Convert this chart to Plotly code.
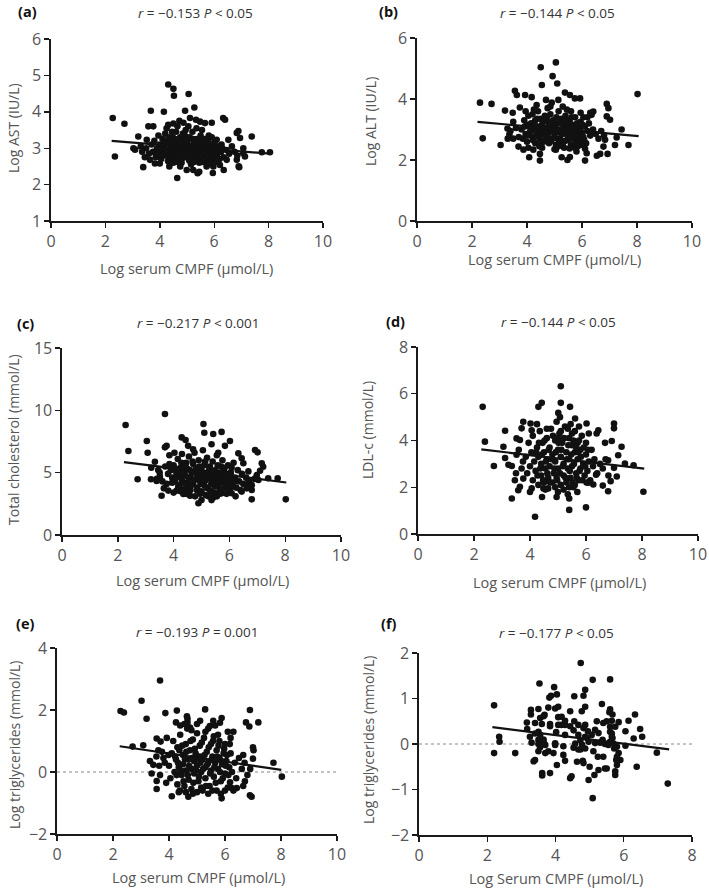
import plotly.graph_objects as go

# ---------------- data ----------------
a_pts = [(2.27,3.83),(2.35,2.77),(2.70,3.67),(3.03,3.0),(3.09,2.96),(3.21,3.32),(3.39,2.48),(3.52,3.23),(3.58,3.60),(3.76,3.60),
 (3.67,4.03),(4.15,4.0),(4.31,4.75),(4.50,4.63),(4.52,4.44),(5.06,4.49),(4.93,4.03),(5.27,4.12),(4.31,3.64),(4.5,3.68),
 (4.72,3.75),(4.87,3.70),(5.11,3.83),(5.33,3.78),(5.48,3.73),(5.66,3.69),(5.91,3.70),(6.33,3.83),(6.4,3.78),(7.38,3.32),
 (8.05,2.89),(7.75,2.89),(4.64,2.18),(6.92,2.48),(5.39,2.31),(6.83,3.42),(6.95,3.28),(6.89,3.47),(7.07,3.0),(7.07,2.86),
 (7.13,2.77),(6.83,2.68),(6.46,2.68),(6.21,2.54),(5.97,2.5),(5.72,2.5),(4.99,2.40),(5.23,2.40),(4.0,2.58),(3.82,2.58),
 (3.64,2.68),(6.52,3.23),(6.27,3.1),(6.09,3.23),(5.91,3.30),(5.45,2.35),(5.95,2.32),(6.35,2.4),(6.9,2.5),
 (3.7,3.1),(3.75,2.9),(3.8,3.2),(3.85,2.75),(3.9,3.0),(3.95,3.35),(4.0,2.85),(4.0,3.1),(4.05,2.7),(4.1,3.25),(4.1,2.95),
 (4.15,3.05),(4.2,2.8),(4.2,3.4),(4.25,3.15),(4.3,2.65),(4.3,2.95),(4.35,3.3),(4.4,3.05),(4.4,2.75),(4.45,2.9),(4.5,3.2),
 (4.5,2.6),(4.55,3.0),(4.6,3.45),(4.6,2.8),(4.65,3.1),(4.7,2.95),(4.7,2.7),(4.75,3.3),(4.8,3.05),(4.8,2.6),(4.85,2.85),
 (4.9,3.2),(4.9,2.95),(4.95,3.5),(5.0,2.75),(5.0,3.1),(5.05,2.9),(5.1,3.3),(5.1,2.65),(5.15,3.0),(5.2,2.85),(5.2,3.45),
 (5.25,3.15),(5.3,2.7),(5.3,2.95),(5.35,3.25),(5.4,2.85),(5.4,3.05),(5.45,2.6),(5.5,3.35),(5.5,2.9),(5.55,3.1),(5.6,2.75),
 (5.6,3.0),(5.65,3.25),(5.7,2.85),(5.7,2.6),(5.75,3.1),(5.8,2.95),(5.8,3.35),(5.85,2.7),(5.9,3.05),(5.95,2.85),(6.0,3.15),
 (6.0,2.65),(6.05,2.95),(6.1,2.8),(6.15,3.05),(6.2,2.7),(6.25,2.9),(6.3,3.0),(6.35,2.75),(6.45,2.95),(6.55,2.85),(6.65,3.05),
 (6.75,2.9),(6.85,2.8),(3.6,2.85),(3.5,3.0),(3.45,2.75),(3.3,3.05),(3.35,2.9),(4.25,3.55),(4.45,3.45),(4.85,3.4),(5.35,3.55),
 (5.55,3.5),(5.15,2.55),(4.75,2.5),(5.9,2.55),(4.35,2.5),(5.05,3.6),(4.65,3.6)]
a_core = [(4.22,2.92),(4.28,3.22),(4.33,2.78),(4.38,3.12),(4.42,2.88),(4.48,3.3),(4.52,2.72),(4.57,3.08),(4.62,2.92),(4.67,3.25),
 (4.72,2.83),(4.77,3.15),(4.82,2.72),(4.87,3.0),(4.92,3.35),(4.97,2.85),(5.02,3.2),(5.07,2.68),(5.12,3.05),(5.17,2.78),
 (5.22,3.25),(5.27,2.9),(5.32,3.1),(5.37,2.75),(5.42,3.2),(5.47,2.95),(5.52,2.7),(5.57,3.22),(5.62,2.88),(5.67,3.05),
 (5.72,2.75),(5.77,3.2),(5.82,2.8),(5.87,3.0),(5.92,2.72),(5.97,3.1),(6.02,2.85),(6.08,3.0),(4.18,3.12),(4.08,2.8),
 (3.98,3.0),(3.88,2.88),(4.45,3.02),(4.95,3.02),(5.45,3.02),(5.25,2.62),(4.65,2.62),(5.85,2.62),(5.55,2.62),(6.12,2.62)]

b_pts = [(5.05,5.20),(4.50,5.04),(4.93,4.75),(5.10,4.51),(4.54,4.46),(8.02,4.16),(2.29,3.88),(2.71,3.84),(2.39,2.71),(3.04,2.49),
 (3.56,4.27),(3.63,4.13),(3.93,4.13),(4.17,4.06),(3.2,3.62),(3.48,3.55),(3.74,3.72),(4.69,3.97),(4.9,3.88),(5.14,3.97),
 (5.38,4.21),(5.56,4.13),(5.74,4.02),(5.93,4.02),(6.9,3.84),(6.96,3.70),(6.9,3.43),(7.02,3.32),(6.41,3.59),(6.35,3.48),
 (7.44,3.0),(7.26,2.74),(7.69,2.49),(7.2,2.49),(6.84,2.66),(6.78,2.44),(6.54,2.14),(6.93,2.2),(6.66,2.2),(4.08,2.09),
 (4.47,1.98),(5.26,2.09),(5.47,2.0),(5.56,2.1),(6.11,1.98),(6.17,2.22),(4.47,2.2),(4.23,2.34),(3.50,2.7),(3.36,2.84),
 (3.29,3.03),(3.69,2.44),(3.87,2.34),(5.05,2.34),(5.68,2.45),(5.8,2.28),(6.11,2.37),
 (3.8,3.0),(3.85,2.7),(3.9,3.3),(3.95,2.85),(4.0,3.15),(4.0,2.6),(4.05,3.45),(4.1,2.9),(4.15,3.2),(4.2,2.75),(4.2,3.5),
 (4.25,3.05),(4.3,2.55),(4.3,3.3),(4.35,2.85),(4.4,3.1),(4.4,3.6),(4.45,2.7),(4.5,2.95),(4.5,3.35),(4.55,3.15),(4.6,2.6),
 (4.6,2.85),(4.65,3.45),(4.7,3.05),(4.7,2.75),(4.75,3.25),(4.8,2.55),(4.8,2.95),(4.85,3.5),(4.9,3.1),(4.9,2.7),(4.95,3.3),
 (5.0,2.85),(5.0,3.05),(5.05,2.5),(5.1,3.2),(5.1,2.9),(5.15,3.6),(5.2,2.7),(5.2,3.0),(5.25,3.35),(5.3,2.55),(5.3,2.85),
 (5.35,3.15),(5.4,2.95),(5.4,3.45),(5.45,2.65),(5.5,3.1),(5.5,2.8),(5.55,3.3),(5.6,2.5),(5.6,2.95),(5.65,3.15),(5.7,2.7),
 (5.75,3.4),(5.8,2.85),(5.85,3.05),(5.9,2.6),(5.95,3.25),(6.0,2.9),(6.05,2.75),(6.1,3.1),(6.15,2.55),(6.2,2.95),(6.3,2.8),
 (6.4,3.0),(6.5,2.85),(6.6,2.7),(6.7,2.95),(6.8,2.8),(3.7,2.75),(3.6,3.05),(3.5,3.25),(3.4,2.95),(3.3,2.7),(4.35,3.8),
 (4.75,3.7),(5.3,3.75),(5.6,3.6),(5.95,3.55),(6.2,3.4),(6.3,3.55),(4.55,2.4),(5.0,2.35),(5.35,2.4),(5.75,2.4),(4.05,2.4),
 (3.95,3.6)]
b_core = [(4.22,2.65),(4.27,3.18),(4.32,2.95),(4.37,3.35),(4.42,2.78),(4.47,3.05),(4.52,2.55),(4.57,3.25),(4.62,3.0),(4.67,2.7),
 (4.72,3.4),(4.77,2.88),(4.82,3.15),(4.87,2.62),(4.92,2.95),(4.97,3.2),(5.02,2.72),(5.07,3.4),(5.12,3.0),(5.17,2.6),
 (5.22,3.22),(5.27,2.85),(5.32,3.05),(5.37,2.62),(5.42,3.28),(5.47,2.9),(5.52,3.15),(5.57,2.7),(5.62,3.4),(5.67,2.88),
 (5.72,3.05),(5.77,2.55),(5.82,3.2),(5.87,2.75),(5.92,3.0),(5.97,2.5),(6.02,3.15),(6.08,2.65),(4.12,3.05),(4.02,2.8),
 (3.92,3.1),(4.45,2.45),(5.15,2.45),(5.55,2.38),(5.85,2.45),(4.25,3.65),(4.85,3.75),(5.45,3.65),(6.05,3.4),(6.25,3.2)]

c_pts = [(3.69,9.70),(2.28,8.82),(5.07,8.90),(5.1,8.2),(5.42,8.1),(5.72,8.27),(4.29,7.83),(4.43,7.62),(3.04,7.54),(6.02,7.54),
 (2.38,6.74),(3.07,6.6),(3.69,7.03),(3.75,7.15),(6.92,6.82),(7.01,6.63),(7.16,5.75),(7.21,5.48),(2.71,4.47),(3.19,4.47),
 (3.39,4.34),(3.65,3.74),(3.81,3.56),(3.57,3.15),(4.11,3.56),(4.35,3.29),(4.77,3.1),(5.0,2.8),(4.89,2.55),(5.36,2.8),
 (5.42,3.0),(5.72,3.35),(6.02,3.74),(6.44,3.48),(6.8,2.86),(6.8,3.61),(6.62,3.74),(6.68,4.0),(8.02,2.86),(7.39,4.55),
 (7.73,4.55),(7.04,4.41),(6.98,4.8),(7.1,5.15),(6.44,6.15),(6.32,6.55),(6.5,5.75),(6.68,5.1),(3.33,5.88),(3.45,5.21),
 (3.51,4.68),(4.41,3.43),(4.59,3.15),(6.08,3.35),(6.22,3.1),(4.17,3.82),(4.03,6.6),(4.52,7.15),(4.7,6.88),(5.36,7.28),
 (5.84,7.15),(5.6,6.6),
 (3.9,5.2),(3.95,4.6),(4.0,5.6),(4.05,4.3),(4.1,5.0),(4.15,6.1),(4.2,4.7),(4.2,3.9),(4.25,5.4),(4.3,4.4),(4.3,6.5),
 (4.35,5.1),(4.4,3.7),(4.4,4.8),(4.45,5.8),(4.5,4.2),(4.5,5.3),(4.55,6.3),(4.6,4.6),(4.6,3.6),(4.65,5.0),(4.7,5.7),
 (4.7,4.1),(4.75,6.6),(4.8,4.5),(4.8,5.4),(4.85,3.8),(4.9,4.9),(4.9,6.0),(4.95,4.3),(5.0,5.2),(5.0,3.5),(5.05,4.7),
 (5.05,6.8),(5.1,5.6),(5.1,4.0),(5.15,4.4),(5.2,5.0),(5.2,6.2),(5.25,3.7),(5.3,4.6),(5.3,5.5),(5.35,4.1),(5.4,5.9),
 (5.4,4.8),(5.45,3.4),(5.5,4.3),(5.5,5.2),(5.55,6.4),(5.6,4.0),(5.6,4.9),(5.65,3.6),(5.7,5.5),(5.7,4.5),(5.75,6.0),
 (5.8,4.2),(5.8,5.1),(5.85,3.8),(5.9,4.7),(5.95,5.6),(6.0,4.4),(6.0,3.5),(6.05,5.0),(6.1,4.1),(6.15,5.8),(6.2,4.6),
 (6.25,3.8),(6.3,5.2),(6.35,4.3),(6.45,4.9),(6.5,4.1),(6.6,4.6),(6.7,4.3),(6.8,4.0),(6.9,4.5),(3.8,4.9),(3.7,5.5),
 (3.6,4.3),(3.5,5.0),(3.4,4.5),(3.2,5.4),(3.85,6.4),(4.45,3.3),(5.15,3.2),(5.55,3.1),(5.9,3.3),(4.0,3.4),(3.75,4.1),
 (6.4,3.6)]
c_core = [(4.08,4.6),(4.13,5.3),(4.18,4.0),(4.23,5.0),(4.28,5.8),(4.33,4.2),(4.38,4.9),(4.43,5.5),(4.48,3.8),(4.53,4.6),
 (4.58,5.2),(4.63,4.0),(4.68,5.9),(4.73,4.4),(4.78,5.0),(4.83,3.6),(4.88,4.7),(4.93,5.5),(4.98,4.1),(5.03,5.0),
 (5.08,4.4),(5.13,5.9),(5.18,3.8),(5.23,4.8),(5.28,5.3),(5.33,3.5),(5.38,4.4),(5.43,5.1),(5.48,3.9),(5.53,4.7),
 (5.58,5.6),(5.63,4.2),(5.68,5.0),(5.73,3.7),(5.78,4.6),(5.83,5.4),(5.88,4.0),(5.93,4.9),(5.98,3.7),(6.03,4.7),
 (6.08,5.4),(6.13,3.9),(6.18,4.3),(4.95,3.3),(5.25,3.1),(5.65,3.3),(4.55,3.4),(4.25,3.5),(3.95,4.2),(3.85,5.7)]

d_pts = [(5.1,6.32),(2.31,5.44),(4.42,5.61),(4.3,5.44),(5.1,5.61),(5.43,5.44),(5.01,5.18),(5.07,5.0),(2.39,3.95),(3.05,3.73),
 (3.11,4.42),(2.71,2.91),(3.35,2.91),(3.35,1.52),(4.18,0.74),(5.4,1.03),(6.0,1.14),(5.4,1.52),(4.43,1.58),(3.64,2.02),
 (3.58,1.87),(4.06,1.95),(4.95,1.58),(4.65,1.95),(4.48,1.95),(5.69,1.8),(6.08,2.19),(6.26,2.12),(6.36,2.54),(6.6,2.07),
 (6.79,1.83),(6.88,2.26),(8.05,1.81),(7.0,4.73),(7.0,4.52),(6.68,3.9),(6.92,3.98),(7.27,3.73),(7.15,3.37),(6.79,3.15),
 (7.39,3.01),(7.7,2.94),(7.0,2.83),(7.1,2.46),(6.38,4.3),(6.44,4.44),(6.02,4.73),(5.61,4.94),(3.76,4.8),(4.02,4.73),
 (3.7,4.52),(4.06,4.44),(3.52,4.09),(3.64,4.02),(3.11,3.25),(3.23,2.96),(3.52,3.39),(3.46,2.3),(3.76,2.37),
 (3.85,3.3),(3.9,2.6),(3.95,3.9),(4.0,2.9),(4.05,3.5),(4.1,2.3),(4.1,4.2),(4.15,3.1),(4.2,2.7),(4.25,3.7),(4.3,2.1),
 (4.3,3.3),(4.35,4.4),(4.4,2.5),(4.4,3.0),(4.45,3.9),(4.5,2.2),(4.5,3.5),(4.55,2.8),(4.6,4.1),(4.6,3.2),(4.65,2.4),
 (4.7,3.7),(4.7,2.9),(4.75,4.5),(4.8,2.2),(4.8,3.4),(4.85,2.6),(4.9,4.0),(4.9,3.1),(4.95,2.4),(5.0,3.6),(5.0,2.8),
 (5.05,4.3),(5.1,2.1),(5.1,3.3),(5.15,3.9),(5.2,2.5),(5.2,3.0),(5.25,4.6),(5.3,2.2),(5.3,3.5),(5.35,2.8),(5.4,4.1),
 (5.4,3.2),(5.45,2.4),(5.5,3.8),(5.5,2.9),(5.55,2.0),(5.6,3.5),(5.6,4.4),(5.65,2.6),(5.7,3.2),(5.7,3.9),(5.75,2.3),
 (5.8,3.6),(5.8,2.8),(5.85,4.2),(5.9,3.0),(5.95,2.5),(6.0,3.4),(6.0,3.9),(6.05,2.7),(6.1,3.1),(6.15,2.3),(6.2,3.6),
 (6.25,2.9),(6.3,3.2),(6.4,2.6),(6.5,3.0),(6.6,2.8),(6.7,3.2),(6.8,2.5),(3.7,2.8),(3.6,3.6),(3.5,2.6),(3.75,3.1),
 (4.0,1.8),(4.55,1.9),(5.0,1.8),(5.35,1.7),(4.25,4.7),(4.95,4.8),(5.45,4.7),(5.75,4.6),(6.1,4.3)]
d_core = [(4.22,3.5),(4.27,2.5),(4.32,3.9),(4.37,2.8),(4.42,3.4),(4.47,2.3),(4.52,4.0),(4.57,3.1),(4.62,2.6),(4.67,3.6),
 (4.72,2.2),(4.77,3.2),(4.82,4.2),(4.87,2.8),(4.92,3.5),(4.97,2.3),(5.02,3.9),(5.07,2.6),(5.12,3.6),(5.17,2.9),
 (5.22,4.1),(5.27,2.4),(5.32,3.2),(5.37,3.8),(5.42,2.7),(5.47,3.4),(5.52,2.2),(5.57,3.0),(5.62,3.9),(5.67,2.4),
 (5.72,3.5),(5.77,2.7),(5.82,3.3),(5.87,2.3),(5.92,3.7),(5.97,2.9),(6.02,2.2),(6.07,3.6),(5.4,2.0),(5.2,1.9),
 (4.9,2.0),(5.6,2.1),(5.1,4.4),(4.6,4.5),(5.5,4.3),(5.35,4.5),(5.55,4.0),(5.65,3.7),(5.75,4.0),(5.0,4.1)]

e_pts = [(3.68,2.95),(3.02,2.3),(2.27,1.97),(2.39,1.92),(3.2,1.72),(3.87,1.9),(4.28,1.98),(5.29,2.02),(6.89,2.0),(7.19,1.6),
 (6.75,1.6),(6.87,1.47),(4.64,1.8),(4.66,1.72),(4.66,1.6),(4.75,1.43),(5.88,1.74),(5.82,1.59),(5.58,1.65),(5.11,1.65),
 (5.46,1.48),(7.73,0.3),(8.03,-0.15),(3.38,-0.05),(3.68,-0.1),(3.56,-0.29),(3.56,-0.55),(4.1,-0.78),(4.39,-0.6),(4.69,-0.8),
 (5.88,-0.85),(6.89,-0.75),(6.95,-0.8),(6.65,-0.45),(6.71,-0.3),(6.18,-0.33),(6.24,-0.52),(6.42,-0.52),(7.0,0.43),(7.0,0.8),
 (7.02,0.7),(6.65,0.55),(2.7,0.82),(3.08,0.86),(3.56,1.08),(3.7,0.98),(3.92,1.1),(3.32,0.35),(3.44,0.23),(3.8,0.45),
 (3.62,0.7),(3.98,0.55),
 (4.0,0.2),(4.05,-0.2),(4.1,0.6),(4.15,1.0),(4.2,0.0),(4.25,0.4),(4.3,-0.4),(4.3,0.8),(4.35,0.15),(4.4,1.2),(4.45,-0.1),
 (4.5,0.55),(4.5,0.25),(4.55,-0.45),(4.6,0.9),(4.6,0.05),(4.65,1.4),(4.7,0.4),(4.7,-0.25),(4.75,0.7),(4.8,0.1),(4.8,-0.55),
 (4.85,1.05),(4.9,0.35),(4.9,-0.05),(4.95,0.6),(5.0,0.2),(5.0,1.25),(5.05,-0.3),(5.1,0.5),(5.1,0.85),(5.15,0.0),(5.2,-0.6),
 (5.2,0.4),(5.25,1.1),(5.3,0.15),(5.3,-0.2),(5.35,0.65),(5.4,0.3),(5.4,1.4),(5.45,-0.45),(5.5,0.9),(5.5,0.05),(5.55,0.5),
 (5.6,-0.15),(5.6,1.15),(5.65,0.3),(5.7,0.7),(5.7,-0.6),(5.75,0.1),(5.8,0.45),(5.8,1.0),(5.85,-0.3),(5.9,0.25),(5.95,0.6),
 (6.0,-0.05),(6.0,0.9),(6.05,0.35),(6.1,-0.5),(6.15,0.15),(6.2,0.6),(6.25,0.0),(6.3,1.3),(6.35,0.3),(6.4,-0.2),(6.5,0.45),
 (6.6,0.1),(6.7,0.3),(6.8,-0.1),(6.9,0.1),(3.85,0.3),(3.9,-0.35),(3.75,0.65),(3.65,0.2),(3.55,0.5),(4.25,1.6),(4.55,1.55),
 (5.0,1.55),(5.65,1.5),(6.1,1.3),(4.35,-0.65),(5.0,-0.65),(5.4,-0.7),(5.85,-0.7),(6.3,-0.6)]
e_core = [(4.22,0.5),(4.27,-0.1),(4.32,0.3),(4.37,0.7),(4.42,0.05),(4.47,0.85),(4.52,-0.3),(4.57,0.4),(4.62,0.65),(4.67,-0.1),
 (4.72,0.2),(4.77,1.0),(4.82,0.45),(4.87,-0.35),(4.92,0.75),(4.97,0.05),(5.02,0.45),(5.07,-0.15),(5.12,0.3),(5.17,0.95),
 (5.22,0.1),(5.27,0.55),(5.32,-0.45),(5.37,0.25),(5.42,0.8),(5.47,-0.05),(5.52,0.4),(5.57,1.0),(5.62,0.15),(5.67,-0.35),
 (5.72,0.5),(5.77,0.85),(5.82,0.0),(5.87,0.35),(5.92,-0.2),(5.97,0.75),(6.02,0.2),(6.07,0.55),(6.12,-0.1),(6.17,0.9),
 (4.6,-0.65),(5.15,-0.5),(5.55,-0.6),(6.0,-0.6),(4.85,-0.7),(4.4,1.5),(4.8,1.35),(5.3,1.3),(5.75,1.2),(6.2,1.1)]

f_pts = [(4.74,1.78),(5.09,1.41),(5.6,1.42),(3.53,1.33),(3.96,1.25),(4.04,1.09),(3.87,1.06),(3.82,1.02),(4.87,1.19),(4.82,1.06),
 (4.55,1.05),(2.2,0.85),(3.28,0.75),(3.28,0.65),(3.5,0.77),(3.79,0.8),(3.99,0.78),(4.08,0.82),(3.68,0.64),(3.65,0.61),
 (4.18,0.6),(4.43,0.72),(4.77,0.72),(4.87,0.82),(5.36,0.88),(5.6,0.76),(5.58,0.7),(5.67,0.65),(6.33,0.65),(6.14,0.51),
 (3.16,0.47),(3.4,0.46),(3.6,0.44),(3.84,0.44),(4.08,0.42),(4.43,0.39),(4.67,0.42),(4.87,0.42),(5.21,0.5),(5.5,0.5),
 (5.65,0.51),(5.4,0.46),(2.35,0.16),(2.36,0.05),(2.2,-0.2),(2.82,-0.2),(3.17,0.33),(3.5,0.27),(3.55,0.2),(3.5,0.09),
 (3.65,0.04),(3.7,-0.02),(3.55,-0.07),(3.99,0.015),(4.17,0.42),(4.02,0.26),(4.28,0.2),(4.53,0.3),(4.58,0.01),(4.73,0.08),
 (4.78,-0.02),(4.87,0.16),(4.97,0.05),(5.06,0.2),(5.26,0.24),(5.38,0.09),(5.45,0.0),(5.65,0.16),(5.7,0.01),(5.8,-0.06),
 (6.05,-0.04),(6.29,0.12),(6.48,0.33),(6.54,0.16),(6.05,0.28),(6.97,-0.19),(7.29,-0.87),(5.09,-1.19),(4.97,-0.79),(5.14,-0.68),
 (4.43,-0.75),(4.47,-0.71),(3.61,-0.64),(3.61,-0.69),(3.84,-0.64),(3.36,-0.38),(3.4,-0.35),(4.04,-0.46),(4.28,-0.37),(3.94,-0.2),
 (4.23,-0.24),(4.63,-0.39),(4.8,-0.37),(4.82,-0.42),(5.0,-0.5),(5.26,-0.57),(5.45,-0.54),(5.5,-0.54),(5.4,-0.28),(5.24,-0.28),
 (5.75,-0.68),(5.75,-0.6),(5.8,-0.46),(5.8,-0.28),(5.85,-0.2),(5.9,-0.35),(6.38,-0.5),(5.11,-0.16),(4.67,-0.12),(4.53,-0.08),
 (3.7,-0.2),(3.5,-0.16),(3.25,0.16),(3.4,0.23),(3.3,0.03),(3.84,0.39),(4.23,-0.05),(4.28,0.42),(5.16,0.31),(5.6,0.38),
 (5.65,0.23),(5.75,0.38),(4.92,0.13),(5.16,0.02),(5.31,0.03),(5.55,-0.02),(5.67,0.13),(4.87,-0.1),(4.73,-0.12),(3.79,-0.16),
 (3.99,-0.02),(3.5,0.0),(3.65,0.1),(4.67,0.2),(4.82,0.35),(4.55,0.5),(4.28,0.51),(4.08,0.59),(3.55,0.57),(5.6,0.27),
 (5.85,0.48),(5.6,0.05),(5.72,-0.1),(5.78,-0.35),(4.95,0.28)]
f_core = []

# fitted regression lines (end points)
fit_x = {"a": [2.23, 8.05], "b": [2.2, 8.06], "c": [2.22, 8.04], "d": [2.26, 8.08], "e": [2.24, 8.01], "f": [2.15, 7.33]}
fit_y = {"a": [3.2, 2.85], "b": [3.25, 2.78], "c": [5.84, 4.21], "d": [3.62, 2.80], "e": [0.83, 0.07], "f": [0.37, -0.12]}

panel_letters = ["(a)", "(b)", "(c)", "(d)", "(e)", "(f)"]
stat_labels = ["<i>r</i> = \u22120.153 <i>P</i> < 0.05", "<i>r</i> = \u22120.144 <i>P</i> < 0.05",
               "<i>r</i> = \u22120.217 <i>P</i> < 0.001", "<i>r</i> = \u22120.144 <i>P</i> < 0.05",
               "<i>r</i> = \u22120.193 <i>P</i> = 0.001", "<i>r</i> = \u22120.177 <i>P</i> < 0.05"]
x_titles = ["Log serum CMPF (\u00b5mol/L)"] * 5 + ["Log Serum CMPF (\u00b5mol/L)"]
y_titles = ["Log AST (IU/L)", "Log ALT (IU/L)", "Total cholesterol (mmol/L)", "LDL-c (mmol/L)",
            "Log triglycerides (mmol/L)", "Log triglycerides (mmol/L)"]
x_ranges = [[0, 10]] * 5 + [[0, 8]]
y_ranges = [[1, 6], [0, 6], [0, 15], [0, 8], [-2, 4], [-2, 2]]
y_dticks = [1, 2, 5, 2, 2, 1]
zero_line = [False, False, False, False, True, True]

# ---------------- layout geometry (pixels of a 709x888 page) ----------------
W, H = 709, 888
def px(x): return x / W
def py(y): return 1 - y / H

# plot area boxes: left, right, top, bottom (pixels)
boxes = [(51, 323, 39, 221), (417, 692, 38, 221), (62, 341, 348, 535),
         (418, 698, 347, 534), (57, 337, 648, 834), (419, 692, 653, 835)]
letter_pos = [(27, 12), (388, 12), (25, 323), (395, 322), (25, 623), (389, 623)]
stat_pos = [(195, 13), (557, 13), (198, 323), (558, 322), (197, 632), (556, 633)]
xt_pos = [(187, 268), (554, 259), (202, 580), (559, 582), (198, 877), (556, 878)]
yt_pos = [(14, 128), (370, 122), (13, 440), (367, 430), (14, 745), (368, 740)]

fig = go.Figure()
all_pts = [a_pts + a_core, b_pts + b_core, c_pts + c_core, d_pts + d_core, e_pts + e_core, f_pts + f_core]
keys = ["a", "b", "c", "d", "e", "f"]

axis_col = "#1a1a1a"
text_col = "#555555"
FONT = "Open Sans"

annotations = []
shapes = []
for i in range(6):
    n = i + 1
    xa = "x" if n == 1 else f"x{n}"
    ya = "y" if n == 1 else f"y{n}"
    xs = [p[0] for p in all_pts[i]]
    ys = [p[1] for p in all_pts[i]]
    fig.add_trace(go.Scatter(x=xs, y=ys, mode="markers", xaxis=xa, yaxis=ya,
                             marker=dict(size=6.6, color="#111111", line=dict(width=0)),
                             showlegend=False, cliponaxis=False))
    fig.add_trace(go.Scatter(x=fit_x[keys[i]], y=fit_y[keys[i]], mode="lines", xaxis=xa, yaxis=ya,
                             line=dict(color="#111111", width=2.2), showlegend=False))
    l, r, t, b = boxes[i]
    common = dict(showline=True, linecolor=axis_col, linewidth=1.6, ticks="outside", ticklen=5,
                  tickwidth=1.4, tickcolor=axis_col, showgrid=False, zeroline=False, automargin=False,
                  tickfont=dict(family=FONT, size=16, color=text_col))
    fig.layout[f"xaxis{'' if n == 1 else n}"] = dict(domain=[px(l), px(r)], range=x_ranges[i], dtick=2,
                                                     anchor=ya, **common)
    fig.layout[f"yaxis{'' if n == 1 else n}"] = dict(domain=[py(b), py(t)], range=y_ranges[i], dtick=y_dticks[i],
                                                     anchor=xa, **common)
    if zero_line[i]:
        shapes.append(dict(type="line", xref=xa, yref=ya, x0=x_ranges[i][0], x1=x_ranges[i][1], y0=0, y1=0,
                           line=dict(color="#888888", width=1, dash="dot"), layer="below"))
    annotations.append(dict(x=px(letter_pos[i][0]), y=py(letter_pos[i][1]), xref="paper", yref="paper",
                            text=f"<b>{panel_letters[i]}</b>", showarrow=False, xanchor="center", yanchor="middle",
                            font=dict(family=FONT, size=14.5, color="#111111")))
    annotations.append(dict(x=px(stat_pos[i][0]), y=py(stat_pos[i][1]), xref="paper", yref="paper",
                            text=stat_labels[i], showarrow=False, xanchor="center", yanchor="middle",
                            font=dict(family=FONT, size=13.5, color="#333333")))
    annotations.append(dict(x=px(xt_pos[i][0]), y=py(xt_pos[i][1]), xref="paper", yref="paper",
                            text=x_titles[i], showarrow=False, xanchor="center", yanchor="middle",
                            font=dict(family=FONT, size=14.5, color=text_col)))
    annotations.append(dict(x=px(yt_pos[i][0]), y=py(yt_pos[i][1]), xref="paper", yref="paper",
                            text=y_titles[i], showarrow=False, xanchor="center", yanchor="middle", textangle=-90,
                            font=dict(family=FONT, size=14, color=text_col)))

fig.update_layout(width=W, height=H, margin=dict(l=0, r=0, t=0, b=0, autoexpand=False),
                  paper_bgcolor="white", plot_bgcolor="white", hovermode=False,
                  annotations=annotations, shapes=shapes, showlegend=False)

fig.write_html("out.html", config={"displayModeBar": False, "staticPlot": True},
               post_script="document.body.style.margin='0';document.body.style.padding='0';"
                           "document.documentElement.style.overflow='hidden';")
